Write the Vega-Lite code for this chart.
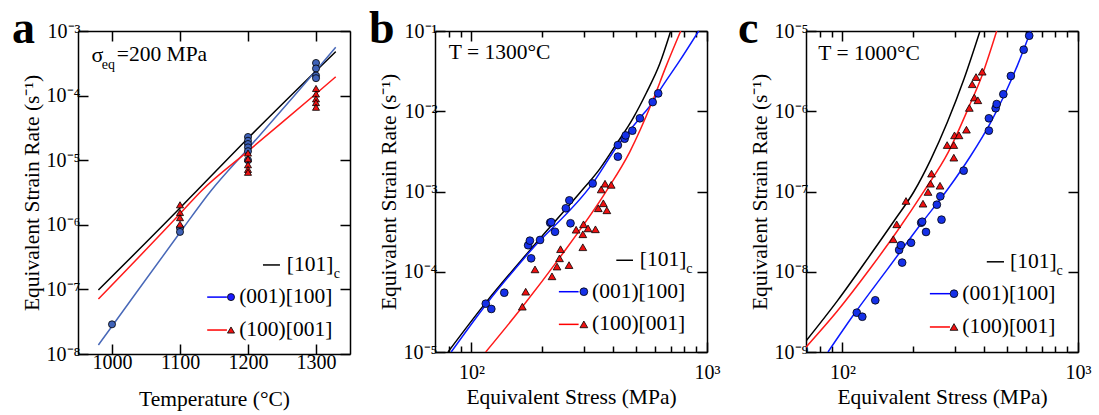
{
  "$schema": "https://vega.github.io/schema/vega-lite/v6.json",
  "background": "white",
  "padding": {"left": 12, "top": 6, "right": 5, "bottom": 5},
  "spacing": 18,
  "config": {
    "view": {"stroke": null},
    "font": "Liberation Serif",
    "axis": {"grid": false, "domainColor": "black", "domainWidth": 1.5, "tickColor": "black", "tickWidth": 1.5, "tickSize": -10, "labelFont": "Liberation Serif", "labelFontSize": 20, "labelColor": "black", "titleFont": "Liberation Serif", "titleFontSize": 21.5, "titleFontWeight": "normal", "titleColor": "black", "labelPadding": 8, "labelOverlap": false},
    "text": {"font": "Liberation Serif", "fontSize": 21.5, "color": "black"}
  },
  "resolve": {"scale": {"color": "independent", "fill": "independent", "shape": "independent"}},
  "datasets": {
    "a_pts": [
      {"T": 1000, "rate": 2.88e-8, "s": "(001)[100]"},
      {"T": 1100, "rate": 8.91e-7, "s": "(001)[100]"},
      {"T": 1100, "rate": 7.76e-7, "s": "(001)[100]"},
      {"T": 1200, "rate": 2.29e-5, "s": "(001)[100]"},
      {"T": 1200, "rate": 2.0e-5, "s": "(001)[100]"},
      {"T": 1200, "rate": 1.78e-5, "s": "(001)[100]"},
      {"T": 1200, "rate": 1.58e-5, "s": "(001)[100]"},
      {"T": 1200, "rate": 1.38e-5, "s": "(001)[100]"},
      {"T": 1200, "rate": 1.0e-5, "s": "(001)[100]"},
      {"T": 1300, "rate": 3.2e-4, "s": "(001)[100]"},
      {"T": 1300, "rate": 2.63e-4, "s": "(001)[100]"},
      {"T": 1300, "rate": 2.04e-4, "s": "(001)[100]"},
      {"T": 1300, "rate": 1.86e-4, "s": "(001)[100]"},
      {"T": 1100, "rate": 2.04e-6, "s": "(100)[001]"},
      {"T": 1100, "rate": 1.55e-6, "s": "(100)[001]"},
      {"T": 1100, "rate": 1.29e-6, "s": "(100)[001]"},
      {"T": 1100, "rate": 1.02e-6, "s": "(100)[001]"},
      {"T": 1200, "rate": 1.29e-5, "s": "(100)[001]"},
      {"T": 1200, "rate": 1.05e-5, "s": "(100)[001]"},
      {"T": 1200, "rate": 8.5e-6, "s": "(100)[001]"},
      {"T": 1200, "rate": 7.2e-6, "s": "(100)[001]"},
      {"T": 1200, "rate": 6.5e-6, "s": "(100)[001]"},
      {"T": 1300, "rate": 1.29e-4, "s": "(100)[001]"},
      {"T": 1300, "rate": 1.06e-4, "s": "(100)[001]"},
      {"T": 1300, "rate": 8.9e-5, "s": "(100)[001]"},
      {"T": 1300, "rate": 7.8e-5, "s": "(100)[001]"},
      {"T": 1300, "rate": 6.6e-5, "s": "(100)[001]"}
    ],
    "a_lines": [
      {"T": 980, "rate": 9.8e-8, "s": "[101]c"},
      {"T": 1100, "rate": 1.82e-6, "s": "[101]c"},
      {"T": 1124, "rate": 3.31e-6, "s": "[101]c"},
      {"T": 1200, "rate": 2.19e-5, "s": "[101]c"},
      {"T": 1329, "rate": 4.79e-4, "s": "[101]c"},
      {"T": 980, "rate": 1.38e-8, "s": "(001)[100]"},
      {"T": 1000, "rate": 2.69e-8, "s": "(001)[100]"},
      {"T": 1100, "rate": 7.59e-7, "s": "(001)[100]"},
      {"T": 1145, "rate": 3.31e-6, "s": "(001)[100]"},
      {"T": 1200, "rate": 1.51e-5, "s": "(001)[100]"},
      {"T": 1300, "rate": 2.45e-4, "s": "(001)[100]"},
      {"T": 1329, "rate": 5.62e-4, "s": "(001)[100]"},
      {"T": 980, "rate": 7.08e-8, "s": "(100)[001]"},
      {"T": 1100, "rate": 1.48e-6, "s": "(100)[001]"},
      {"T": 1131, "rate": 3.31e-6, "s": "(100)[001]"},
      {"T": 1200, "rate": 1.38e-5, "s": "(100)[001]"},
      {"T": 1300, "rate": 1.07e-4, "s": "(100)[001]"},
      {"T": 1329, "rate": 1.95e-4, "s": "(100)[001]"}
    ],
    "b_pts": [
      {"S": 115, "rate": 4.0e-5, "s": "(001)[100]"},
      {"S": 121.4, "rate": 3.44e-5, "s": "(001)[100]"},
      {"S": 137.8, "rate": 5.48e-5, "s": "(001)[100]"},
      {"S": 174, "rate": 2.14e-4, "s": "(001)[100]"},
      {"S": 177, "rate": 2.44e-4, "s": "(001)[100]"},
      {"S": 179.2, "rate": 1.47e-4, "s": "(001)[100]"},
      {"S": 195.5, "rate": 2.49e-4, "s": "(001)[100]"},
      {"S": 215.8, "rate": 4.08e-4, "s": "(001)[100]"},
      {"S": 218, "rate": 4.15e-4, "s": "(001)[100]"},
      {"S": 226.3, "rate": 3.15e-4, "s": "(001)[100]"},
      {"S": 251.6, "rate": 6.18e-4, "s": "(001)[100]"},
      {"S": 260.3, "rate": 7.76e-4, "s": "(001)[100]"},
      {"S": 263.3, "rate": 4.02e-4, "s": "(001)[100]"},
      {"S": 327, "rate": 1.26e-3, "s": "(001)[100]"},
      {"S": 418.4, "rate": 3.79e-3, "s": "(001)[100]"},
      {"S": 418.4, "rate": 2.72e-3, "s": "(001)[100]"},
      {"S": 447, "rate": 4.55e-3, "s": "(001)[100]"},
      {"S": 451.6, "rate": 5.0e-3, "s": "(001)[100]"},
      {"S": 481.9, "rate": 5.73e-3, "s": "(001)[100]"},
      {"S": 518.7, "rate": 8.17e-3, "s": "(001)[100]"},
      {"S": 588, "rate": 1.3e-2, "s": "(001)[100]"},
      {"S": 620.7, "rate": 1.67e-2, "s": "(001)[100]"},
      {"S": 164.4, "rate": 3.67e-5, "s": "(100)[001]"},
      {"S": 169.9, "rate": 5.64e-5, "s": "(100)[001]"},
      {"S": 186.1, "rate": 1.07e-4, "s": "(100)[001]"},
      {"S": 219.7, "rate": 8.77e-5, "s": "(100)[001]"},
      {"S": 230.8, "rate": 1.16e-4, "s": "(100)[001]"},
      {"S": 236.5, "rate": 1.47e-4, "s": "(100)[001]"},
      {"S": 238.8, "rate": 1.91e-4, "s": "(100)[001]"},
      {"S": 259.5, "rate": 1.21e-4, "s": "(100)[001]"},
      {"S": 278.2, "rate": 3.34e-4, "s": "(100)[001]"},
      {"S": 297, "rate": 2.02e-4, "s": "(100)[001]"},
      {"S": 297, "rate": 2.93e-4, "s": "(100)[001]"},
      {"S": 299, "rate": 3.9e-4, "s": "(100)[001]"},
      {"S": 312.5, "rate": 3.47e-4, "s": "(100)[001]"},
      {"S": 336, "rate": 3.38e-4, "s": "(100)[001]"},
      {"S": 345.6, "rate": 6.18e-4, "s": "(100)[001]"},
      {"S": 355.4, "rate": 1.06e-3, "s": "(100)[001]"},
      {"S": 363, "rate": 7.13e-4, "s": "(100)[001]"},
      {"S": 369, "rate": 1.25e-3, "s": "(100)[001]"},
      {"S": 375.7, "rate": 5.83e-4, "s": "(100)[001]"},
      {"S": 392, "rate": 1.21e-3, "s": "(100)[001]"}
    ],
    "b_lines": [
      {"S": 79.5, "rate": 1.0e-5, "s": "[101]c"},
      {"S": 115, "rate": 4.12e-5, "s": "[101]c"},
      {"S": 176, "rate": 1.82e-4, "s": "[101]c"},
      {"S": 288, "rate": 9.57e-4, "s": "[101]c"},
      {"S": 350, "rate": 1.9e-3, "s": "[101]c"},
      {"S": 410, "rate": 3.8e-3, "s": "[101]c"},
      {"S": 485, "rate": 8.17e-3, "s": "[101]c"},
      {"S": 553, "rate": 1.7e-2, "s": "[101]c"},
      {"S": 630, "rate": 3.9e-2, "s": "[101]c"},
      {"S": 701.5, "rate": 0.1, "s": "[101]c"},
      {"S": 82, "rate": 1.0e-5, "s": "(001)[100]"},
      {"S": 116, "rate": 4.0e-5, "s": "(001)[100]"},
      {"S": 177.5, "rate": 1.8e-4, "s": "(001)[100]"},
      {"S": 328, "rate": 1.28e-3, "s": "(001)[100]"},
      {"S": 419, "rate": 3.8e-3, "s": "(001)[100]"},
      {"S": 518, "rate": 8.17e-3, "s": "(001)[100]"},
      {"S": 588, "rate": 1.3e-2, "s": "(001)[100]"},
      {"S": 621, "rate": 1.7e-2, "s": "(001)[100]"},
      {"S": 766, "rate": 4.27e-2, "s": "(001)[100]"},
      {"S": 922, "rate": 0.1, "s": "(001)[100]"},
      {"S": 114.9, "rate": 1.0e-5, "s": "(100)[001]"},
      {"S": 165.5, "rate": 3.74e-5, "s": "(100)[001]"},
      {"S": 237, "rate": 1.5e-4, "s": "(100)[001]"},
      {"S": 373.7, "rate": 1.01e-3, "s": "(100)[001]"},
      {"S": 469.6, "rate": 3.1e-3, "s": "(100)[001]"},
      {"S": 586, "rate": 1.32e-2, "s": "(100)[001]"},
      {"S": 672, "rate": 3.7e-2, "s": "(100)[001]"},
      {"S": 773.5, "rate": 0.1, "s": "(100)[001]"}
    ],
    "c_pts": [
      {"S": 115, "rate": 3.09e-9, "s": "(001)[100]"},
      {"S": 121.4, "rate": 2.75e-9, "s": "(001)[100]"},
      {"S": 137.8, "rate": 4.41e-9, "s": "(001)[100]"},
      {"S": 174, "rate": 1.87e-8, "s": "(001)[100]"},
      {"S": 177, "rate": 2.14e-8, "s": "(001)[100]"},
      {"S": 179.2, "rate": 1.30e-8, "s": "(001)[100]"},
      {"S": 195.5, "rate": 2.30e-8, "s": "(001)[100]"},
      {"S": 215.8, "rate": 4.08e-8, "s": "(001)[100]"},
      {"S": 218, "rate": 4.2e-8, "s": "(001)[100]"},
      {"S": 226.3, "rate": 3.13e-8, "s": "(001)[100]"},
      {"S": 251.6, "rate": 6.85e-8, "s": "(001)[100]"},
      {"S": 260.3, "rate": 8.71e-8, "s": "(001)[100]"},
      {"S": 263.3, "rate": 4.46e-8, "s": "(001)[100]"},
      {"S": 327, "rate": 1.82e-7, "s": "(001)[100]"},
      {"S": 418.4, "rate": 8.17e-7, "s": "(001)[100]"},
      {"S": 418.4, "rate": 5.73e-7, "s": "(001)[100]"},
      {"S": 447, "rate": 1.09e-6, "s": "(001)[100]"},
      {"S": 451.6, "rate": 1.23e-6, "s": "(001)[100]"},
      {"S": 481.9, "rate": 1.63e-6, "s": "(001)[100]"},
      {"S": 518.7, "rate": 2.75e-6, "s": "(001)[100]"},
      {"S": 588, "rate": 5.85e-6, "s": "(001)[100]"},
      {"S": 620.7, "rate": 8.73e-6, "s": "(001)[100]"},
      {"S": 164.4, "rate": 2.54e-8, "s": "(100)[001]"},
      {"S": 169.9, "rate": 3.9e-8, "s": "(100)[001]"},
      {"S": 186.1, "rate": 7.62e-8, "s": "(100)[001]"},
      {"S": 219.7, "rate": 7.05e-8, "s": "(100)[001]"},
      {"S": 230.8, "rate": 9.86e-8, "s": "(100)[001]"},
      {"S": 236.5, "rate": 1.25e-7, "s": "(100)[001]"},
      {"S": 238.8, "rate": 1.67e-7, "s": "(100)[001]"},
      {"S": 259.5, "rate": 1.18e-7, "s": "(100)[001]"},
      {"S": 278.2, "rate": 3.79e-7, "s": "(100)[001]"},
      {"S": 297, "rate": 2.64e-7, "s": "(100)[001]"},
      {"S": 297, "rate": 3.79e-7, "s": "(100)[001]"},
      {"S": 299, "rate": 5.01e-7, "s": "(100)[001]"},
      {"S": 312.5, "rate": 5.01e-7, "s": "(100)[001]"},
      {"S": 336, "rate": 5.89e-7, "s": "(100)[001]"},
      {"S": 345.6, "rate": 1.10e-6, "s": "(100)[001]"},
      {"S": 355.4, "rate": 2.17e-6, "s": "(100)[001]"},
      {"S": 363, "rate": 1.48e-6, "s": "(100)[001]"},
      {"S": 369, "rate": 2.67e-6, "s": "(100)[001]"},
      {"S": 375.7, "rate": 1.37e-6, "s": "(100)[001]"},
      {"S": 392, "rate": 3.11e-6, "s": "(100)[001]"}
    ],
    "c_lines": [
      {"S": 70, "rate": 1.37e-9, "s": "[101]c"},
      {"S": 95.1, "rate": 4.33e-9, "s": "[101]c"},
      {"S": 131.8, "rate": 1.65e-8, "s": "[101]c"},
      {"S": 165.5, "rate": 4.29e-8, "s": "[101]c"},
      {"S": 201.2, "rate": 1.0e-7, "s": "[101]c"},
      {"S": 237, "rate": 2.5e-7, "s": "[101]c"},
      {"S": 278.7, "rate": 7.28e-7, "s": "[101]c"},
      {"S": 328, "rate": 2.52e-6, "s": "[101]c"},
      {"S": 383.7, "rate": 1.0e-5, "s": "[101]c"},
      {"S": 86.8, "rate": 1.0e-9, "s": "(001)[100]"},
      {"S": 111.9, "rate": 2.95e-9, "s": "(001)[100]"},
      {"S": 155, "rate": 1.07e-8, "s": "(001)[100]"},
      {"S": 214.8, "rate": 3.9e-8, "s": "(001)[100]"},
      {"S": 278.7, "rate": 1.05e-7, "s": "(001)[100]"},
      {"S": 350.4, "rate": 2.79e-7, "s": "(001)[100]"},
      {"S": 426, "rate": 7.28e-7, "s": "(001)[100]"},
      {"S": 485.2, "rate": 1.56e-6, "s": "(001)[100]"},
      {"S": 552.6, "rate": 3.7e-6, "s": "(001)[100]"},
      {"S": 630, "rate": 1.0e-5, "s": "(001)[100]"},
      {"S": 70, "rate": 1.15e-9, "s": "(100)[001]"},
      {"S": 95.1, "rate": 3.24e-9, "s": "(100)[001]"},
      {"S": 131.8, "rate": 1.12e-8, "s": "(100)[001]"},
      {"S": 170.9, "rate": 3.22e-8, "s": "(100)[001]"},
      {"S": 221.9, "rate": 1.01e-7, "s": "(100)[001]"},
      {"S": 281.4, "rate": 3.1e-7, "s": "(100)[001]"},
      {"S": 347.9, "rate": 1.22e-6, "s": "(100)[001]"},
      {"S": 386.3, "rate": 2.52e-6, "s": "(100)[001]"},
      {"S": 451.6, "rate": 1.0e-5, "s": "(100)[001]"}
    ]
  },
  "hconcat": [
    {
      "width": 272, "height": 323,
      "title": {"text": "a", "anchor": "start", "frame": "group", "offset": -55, "baseline": "alphabetic", "dx": -66, "dy": 13, "fontSize": 46, "fontWeight": "bold", "font": "Liberation Serif", "color": "black"},
      "layer": [
        {
          "data": {"name": "a_lines"},
          "mark": {"type": "line", "strokeWidth": 1.5, "interpolate": "monotone", "clip": true},
          "encoding": {
            "x": {"field": "T", "type": "quantitative", "scale": {"domain": [950, 1350], "nice": false, "zero": false},
                  "axis": {"orient": "bottom", "values": [1000, 1100, 1200, 1300], "format": "d", "title": "Temperature (°C)", "labelFlush": false, "titlePadding": 16}},
            "y": {"field": "rate", "type": "quantitative", "scale": {"type": "log", "domain": [1e-8, 1e-3], "nice": false},
                  "axis": {"orient": "left", "values": [1e-8, 1e-7, 1e-6, 1e-5, 1e-4, 1e-3], "title": "Equivalent Strain Rate (s⁻¹)", "titlePadding": 3,
                           "labelExpr": "'10' + replace(replace(replace(replace(replace(replace(replace(replace(replace(replace(replace(toString(round(log(datum.value)/LN10)),'-','⁻'),'0','⁰'),'1','¹'),'2','²'),'3','³'),'4','⁴'),'5','⁵'),'6','⁶'),'7','⁷'),'8','⁸'),'9','⁹')"}},
            "color": {"field": "s", "type": "nominal", "scale": {"domain": ["[101]c", "(001)[100]", "(100)[001]"], "range": ["#000000", "#4868b8", "#ff1a1a"]}, "legend": null}
          }
        },
        {
          "data": {"name": "a_pts"},
          "mark": {"type": "point", "filled": true, "stroke": "black", "strokeWidth": 0.8, "size": 50, "opacity": 1},
          "encoding": {
            "x": {"field": "T", "type": "quantitative", "axis": {"orient": "top", "values": [1000, 1100, 1200, 1300], "labels": false, "title": null}},
            "y": {"field": "rate", "type": "quantitative", "axis": {"orient": "right", "values": [1e-8, 1e-7, 1e-6, 1e-5, 1e-4, 1e-3], "labels": false, "title": null}},
            "fill": {"field": "s", "type": "nominal", "scale": {"domain": ["(001)[100]", "(100)[001]"], "range": ["#3f62b8", "#ee1111"]}, "legend": null},
            "shape": {"field": "s", "type": "nominal", "scale": {"domain": ["(001)[100]", "(100)[001]"], "range": ["circle", "triangle-up"]}, "legend": null}
          }
        },
        {
          "data": {"values": [{}]},
          "layer": [
            {"mark": {"type": "rule", "color": "black", "strokeWidth": 1.5}, "encoding": {"x": {"datum": 1222, "axis": null}, "x2": {"datum": 1247}, "y": {"datum": 2.39e-7, "axis": null}}},
            {"mark": {"type": "rule", "color": "#0000ff", "strokeWidth": 1.5}, "encoding": {"x": {"datum": 1140, "axis": null}, "x2": {"datum": 1169}, "y": {"datum": 7.6e-8, "axis": null}}},
            {"mark": {"type": "rule", "color": "#ff0000", "strokeWidth": 1.5}, "encoding": {"x": {"datum": 1140, "axis": null}, "x2": {"datum": 1169}, "y": {"datum": 2.35e-8, "axis": null}}},
            {"mark": {"type": "point", "shape": "circle", "filled": true, "fill": "#1a1aff", "stroke": "black", "strokeWidth": 0.8, "size": 50, "opacity": 1}, "encoding": {"x": {"datum": 1175, "axis": null}, "y": {"datum": 7.6e-8, "axis": null}}},
            {"mark": {"type": "point", "shape": "triangle-up", "filled": true, "fill": "#ee1111", "stroke": "black", "strokeWidth": 0.8, "size": 50, "opacity": 1}, "encoding": {"x": {"datum": 1175, "axis": null}, "y": {"datum": 2.35e-8, "axis": null}}},
            {"mark": {"type": "text", "align": "left", "baseline": "middle", "fontSize": 21.5}, "encoding": {"x": {"datum": 1257, "axis": null}, "y": {"datum": 2.39e-7, "axis": null}, "text": {"value": "[101]"}}},
            {"mark": {"type": "text", "align": "left", "baseline": "middle", "fontSize": 14, "dy": 9}, "encoding": {"x": {"datum": 1326, "axis": null}, "y": {"datum": 2.39e-7, "axis": null}, "text": {"value": "c"}}},
            {"mark": {"type": "text", "align": "left", "baseline": "middle", "fontSize": 21.5}, "encoding": {"x": {"datum": 1187, "axis": null}, "y": {"datum": 7.6e-8, "axis": null}, "text": {"value": "(001)[100]"}}},
            {"mark": {"type": "text", "align": "left", "baseline": "middle", "fontSize": 21.5}, "encoding": {"x": {"datum": 1187, "axis": null}, "y": {"datum": 2.35e-8, "axis": null}, "text": {"value": "(100)[001]"}}},
            {"mark": {"type": "text", "align": "left", "baseline": "middle", "fontSize": 22}, "encoding": {"x": {"datum": 970, "axis": null}, "y": {"datum": 4.25e-4, "axis": null}, "text": {"value": "σ"}}},
            {"mark": {"type": "text", "align": "left", "baseline": "middle", "fontSize": 14, "dy": 10}, "encoding": {"x": {"datum": 985, "axis": null}, "y": {"datum": 4.25e-4, "axis": null}, "text": {"value": "eq"}}},
            {"mark": {"type": "text", "align": "left", "baseline": "middle", "fontSize": 21.5}, "encoding": {"x": {"datum": 1007, "axis": null}, "y": {"datum": 4.25e-4, "axis": null}, "text": {"value": "=200 MPa"}}}
          ]
        }
      ]
    },
    {
      "width": 272, "height": 321,
      "title": {"text": "b", "anchor": "start", "frame": "group", "offset": -55, "baseline": "alphabetic", "dx": -66, "dy": 13, "fontSize": 46, "fontWeight": "bold", "font": "Liberation Serif", "color": "black"},
      "layer": [
        {
          "data": {"name": "b_lines"},
          "mark": {"type": "line", "strokeWidth": 1.5, "interpolate": "monotone", "clip": true},
          "encoding": {
            "x": {"field": "S", "type": "quantitative", "scale": {"type": "log", "domain": [70, 1000], "nice": false},
                  "axis": {"orient": "bottom", "values": [80, 90, 100, 200, 300, 400, 500, 600, 700, 800, 900, 1000], "title": "Equivalent Stress (MPa)", "labelFlush": false, "labelPadding": 20, "titlePadding": 0,
                           "tickSize": {"condition": {"test": "datum.value == 100 || datum.value == 1000", "value": -10}, "value": -6},
                           "labelExpr": "datum.value == 100 ? '10²' : datum.value == 1000 ? '10³' : ''"}},
            "y": {"field": "rate", "type": "quantitative", "scale": {"type": "log", "domain": [1e-5, 0.1], "nice": false},
                  "axis": {"orient": "left", "values": [1e-5, 1e-4, 1e-3, 1e-2, 1e-1], "title": "Equivalent Strain Rate (s⁻¹)", "titlePadding": 3,
                           "labelExpr": "'10' + replace(replace(replace(replace(replace(replace(replace(replace(replace(replace(replace(toString(round(log(datum.value)/LN10)),'-','⁻'),'0','⁰'),'1','¹'),'2','²'),'3','³'),'4','⁴'),'5','⁵'),'6','⁶'),'7','⁷'),'8','⁸'),'9','⁹')"}},
            "color": {"field": "s", "type": "nominal", "scale": {"domain": ["[101]c", "(001)[100]", "(100)[001]"], "range": ["#000000", "#0a1aff", "#ff1a1a"]}, "legend": null}
          }
        },
        {
          "data": {"name": "b_pts"},
          "mark": {"type": "point", "filled": true, "stroke": "black", "strokeWidth": 0.8, "size": 60, "opacity": 1},
          "encoding": {
            "x": {"field": "S", "type": "quantitative", "axis": {"orient": "top", "values": [80, 90, 100, 200, 300, 400, 500, 600, 700, 800, 900, 1000], "labels": false, "title": null,
                  "tickSize": {"condition": {"test": "datum.value == 100 || datum.value == 1000", "value": -10}, "value": -6}}},
            "y": {"field": "rate", "type": "quantitative", "axis": {"orient": "right", "values": [1e-5, 1e-4, 1e-3, 1e-2, 1e-1], "labels": false, "title": null}},
            "fill": {"field": "s", "type": "nominal", "scale": {"domain": ["(001)[100]", "(100)[001]"], "range": ["#1530e8", "#ee1111"]}, "legend": null},
            "shape": {"field": "s", "type": "nominal", "scale": {"domain": ["(001)[100]", "(100)[001]"], "range": ["circle", "triangle-up"]}, "legend": null}
          }
        },
        {
          "data": {"values": [{}]},
          "layer": [
            {"mark": {"type": "rule", "color": "black", "strokeWidth": 1.5}, "encoding": {"x": {"datum": 412, "axis": null}, "x2": {"datum": 485}, "y": {"datum": 1.39e-4, "axis": null}}},
            {"mark": {"type": "rule", "color": "#0000ff", "strokeWidth": 1.5}, "encoding": {"x": {"datum": 235, "axis": null}, "x2": {"datum": 285}, "y": {"datum": 5.64e-5, "axis": null}}},
            {"mark": {"type": "rule", "color": "#ff0000", "strokeWidth": 1.5}, "encoding": {"x": {"datum": 235, "axis": null}, "x2": {"datum": 285}, "y": {"datum": 2.21e-5, "axis": null}}},
            {"mark": {"type": "point", "shape": "circle", "filled": true, "fill": "#1530e8", "stroke": "black", "strokeWidth": 0.8, "size": 60, "opacity": 1}, "encoding": {"x": {"datum": 300, "axis": null}, "y": {"datum": 5.64e-5, "axis": null}}},
            {"mark": {"type": "point", "shape": "triangle-up", "filled": true, "fill": "#ee1111", "stroke": "black", "strokeWidth": 0.8, "size": 60, "opacity": 1}, "encoding": {"x": {"datum": 300, "axis": null}, "y": {"datum": 2.21e-5, "axis": null}}},
            {"mark": {"type": "text", "align": "left", "baseline": "middle", "fontSize": 21.5}, "encoding": {"x": {"datum": 518, "axis": null}, "y": {"datum": 1.39e-4, "axis": null}, "text": {"value": "[101]"}}},
            {"mark": {"type": "text", "align": "left", "baseline": "middle", "fontSize": 14, "dy": 9}, "encoding": {"x": {"datum": 817, "axis": null}, "y": {"datum": 1.39e-4, "axis": null}, "text": {"value": "c"}}},
            {"mark": {"type": "text", "align": "left", "baseline": "middle", "fontSize": 21.5}, "encoding": {"x": {"datum": 325, "axis": null}, "y": {"datum": 5.64e-5, "axis": null}, "text": {"value": "(001)[100]"}}},
            {"mark": {"type": "text", "align": "left", "baseline": "middle", "fontSize": 21.5}, "encoding": {"x": {"datum": 325, "axis": null}, "y": {"datum": 2.21e-5, "axis": null}, "text": {"value": "(100)[001]"}}},
            {"mark": {"type": "text", "align": "left", "baseline": "middle", "fontSize": 21.5}, "encoding": {"x": {"datum": 80.1, "axis": null}, "y": {"datum": 0.0537, "axis": null}, "text": {"value": "T = 1300°C"}}}
          ]
        }
      ]
    },
    {
      "width": 272, "height": 321,
      "title": {"text": "c", "anchor": "start", "frame": "group", "offset": -55, "baseline": "alphabetic", "dx": -68, "dy": 13, "fontSize": 46, "fontWeight": "bold", "font": "Liberation Serif", "color": "black"},
      "layer": [
        {
          "data": {"name": "c_lines"},
          "mark": {"type": "line", "strokeWidth": 1.5, "interpolate": "monotone", "clip": true},
          "encoding": {
            "x": {"field": "S", "type": "quantitative", "scale": {"type": "log", "domain": [70, 1000], "nice": false},
                  "axis": {"orient": "bottom", "values": [80, 90, 100, 200, 300, 400, 500, 600, 700, 800, 900, 1000], "title": "Equivalent Stress (MPa)", "labelFlush": false, "labelPadding": 20, "titlePadding": 0,
                           "tickSize": {"condition": {"test": "datum.value == 100 || datum.value == 1000", "value": -10}, "value": -6},
                           "labelExpr": "datum.value == 100 ? '10²' : datum.value == 1000 ? '10³' : ''"}},
            "y": {"field": "rate", "type": "quantitative", "scale": {"type": "log", "domain": [1e-9, 1e-5], "nice": false},
                  "axis": {"orient": "left", "values": [1e-9, 1e-8, 1e-7, 1e-6, 1e-5], "title": "Equivalent Strain Rate (s⁻¹)", "titlePadding": 3,
                           "labelExpr": "'10' + replace(replace(replace(replace(replace(replace(replace(replace(replace(replace(replace(toString(round(log(datum.value)/LN10)),'-','⁻'),'0','⁰'),'1','¹'),'2','²'),'3','³'),'4','⁴'),'5','⁵'),'6','⁶'),'7','⁷'),'8','⁸'),'9','⁹')"}},
            "color": {"field": "s", "type": "nominal", "scale": {"domain": ["[101]c", "(001)[100]", "(100)[001]"], "range": ["#000000", "#0a1aff", "#ff1a1a"]}, "legend": null}
          }
        },
        {
          "data": {"name": "c_pts"},
          "mark": {"type": "point", "filled": true, "stroke": "black", "strokeWidth": 0.8, "size": 60, "opacity": 1},
          "encoding": {
            "x": {"field": "S", "type": "quantitative", "axis": {"orient": "top", "values": [80, 90, 100, 200, 300, 400, 500, 600, 700, 800, 900, 1000], "labels": false, "title": null,
                  "tickSize": {"condition": {"test": "datum.value == 100 || datum.value == 1000", "value": -10}, "value": -6}}},
            "y": {"field": "rate", "type": "quantitative", "axis": {"orient": "right", "values": [1e-9, 1e-8, 1e-7, 1e-6, 1e-5], "labels": false, "title": null}},
            "fill": {"field": "s", "type": "nominal", "scale": {"domain": ["(001)[100]", "(100)[001]"], "range": ["#1530e8", "#ee1111"]}, "legend": null},
            "shape": {"field": "s", "type": "nominal", "scale": {"domain": ["(001)[100]", "(100)[001]"], "range": ["circle", "triangle-up"]}, "legend": null}
          }
        },
        {
          "data": {"values": [{}]},
          "layer": [
            {"mark": {"type": "rule", "color": "black", "strokeWidth": 1.5}, "encoding": {"x": {"datum": 410, "axis": null}, "x2": {"datum": 485}, "y": {"datum": 1.33e-8, "axis": null}}},
            {"mark": {"type": "rule", "color": "#0000ff", "strokeWidth": 1.5}, "encoding": {"x": {"datum": 235, "axis": null}, "x2": {"datum": 286}, "y": {"datum": 5.33e-9, "axis": null}}},
            {"mark": {"type": "rule", "color": "#ff0000", "strokeWidth": 1.5}, "encoding": {"x": {"datum": 235, "axis": null}, "x2": {"datum": 286}, "y": {"datum": 2.05e-9, "axis": null}}},
            {"mark": {"type": "point", "shape": "circle", "filled": true, "fill": "#1530e8", "stroke": "black", "strokeWidth": 0.8, "size": 60, "opacity": 1}, "encoding": {"x": {"datum": 297.5, "axis": null}, "y": {"datum": 5.33e-9, "axis": null}}},
            {"mark": {"type": "point", "shape": "triangle-up", "filled": true, "fill": "#ee1111", "stroke": "black", "strokeWidth": 0.8, "size": 60, "opacity": 1}, "encoding": {"x": {"datum": 297.5, "axis": null}, "y": {"datum": 2.05e-9, "axis": null}}},
            {"mark": {"type": "text", "align": "left", "baseline": "middle", "fontSize": 21.5}, "encoding": {"x": {"datum": 514.5, "axis": null}, "y": {"datum": 1.33e-8, "axis": null}, "text": {"value": "[101]"}}},
            {"mark": {"type": "text", "align": "left", "baseline": "middle", "fontSize": 14, "dy": 9}, "encoding": {"x": {"datum": 811, "axis": null}, "y": {"datum": 1.33e-8, "axis": null}, "text": {"value": "c"}}},
            {"mark": {"type": "text", "align": "left", "baseline": "middle", "fontSize": 21.5}, "encoding": {"x": {"datum": 322.7, "axis": null}, "y": {"datum": 5.33e-9, "axis": null}, "text": {"value": "(001)[100]"}}},
            {"mark": {"type": "text", "align": "left", "baseline": "middle", "fontSize": 21.5}, "encoding": {"x": {"datum": 322.7, "axis": null}, "y": {"datum": 2.05e-9, "axis": null}, "text": {"value": "(100)[001]"}}},
            {"mark": {"type": "text", "align": "left", "baseline": "middle", "fontSize": 21.5}, "encoding": {"x": {"datum": 79, "axis": null}, "y": {"datum": 5.13e-6, "axis": null}, "text": {"value": "T = 1000°C"}}}
          ]
        }
      ]
    }
  ]
}
